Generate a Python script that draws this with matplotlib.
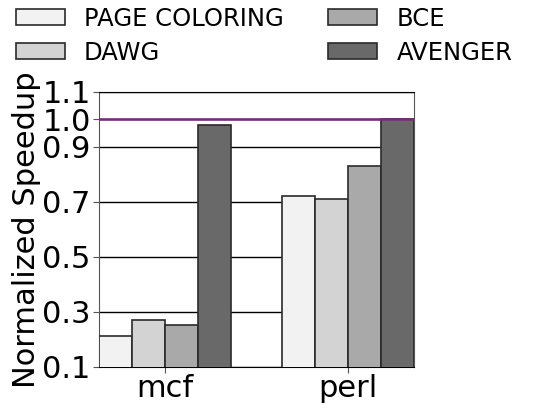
import numpy as np
import matplotlib
matplotlib.use('agg')
import matplotlib.pyplot as plt

benchmarks = ['mcf', 'perl']
schemes = ['PAGE COLORING', 'DAWG', 'BCE', 'AVENGER']
speedup = {
    'PAGE COLORING': [0.21, 0.72],
    'DAWG': [0.27, 0.71],
    'BCE': [0.25, 0.83],
    'AVENGER': [0.98, 1.00],
}
colors = ['#f2f2f2', '#d3d3d3', '#a9a9a9', '#696969']
yticks = [0.1, 0.3, 0.5, 0.7, 0.9, 1.0, 1.1]

fig = plt.figure(figsize=(5.42, 4.11), dpi=100)
ax = fig.add_axes([0.1827, 0.1078, 0.581, 0.669])

x = np.arange(len(benchmarks))
width = 0.18
offsets = (np.arange(len(schemes)) - 1.5) * width

for i, s in enumerate(schemes):
    ax.bar(x + offsets[i], speedup[s], width, bottom=0, color=colors[i],
           edgecolor='#2a2a2a', linewidth=1.2, label=s, zorder=3)

# baseline speedup
ax.axhline(1.0, color='#7a2a80', linewidth=1.8, zorder=4)

ax.set_ylim(0.1, 1.1)
ax.set_xlim(-0.36, 1.36)
ax.set_yticks(yticks)
ax.set_yticklabels(['%.1f' % t for t in yticks])
ax.set_xticks(x)
ax.set_xticklabels(benchmarks)
ax.yaxis.grid(True, color='black', linewidth=1.0, zorder=0)
ax.set_axisbelow(True)

for sp in ax.spines.values():
    sp.set_color('#555555')
ax.spines['top'].set_color('black')
ax.spines['bottom'].set_color('black')
ax.tick_params(axis='both', labelsize=22, colors='#555555', labelcolor='black',
               length=4, pad=2)
ax.tick_params(axis='x', pad=1)
ax.set_ylabel('Normalized Speedup', fontsize=22, labelpad=1)

fig.legend(loc='upper left', bbox_to_anchor=(-0.011, 1.037), ncol=2,
           frameon=False, fontsize=17.5, handlelength=2.0, handleheight=0.65,
           columnspacing=1.84, labelspacing=0.41, handletextpad=0.8)

fig.savefig('out.png', dpi=100)
